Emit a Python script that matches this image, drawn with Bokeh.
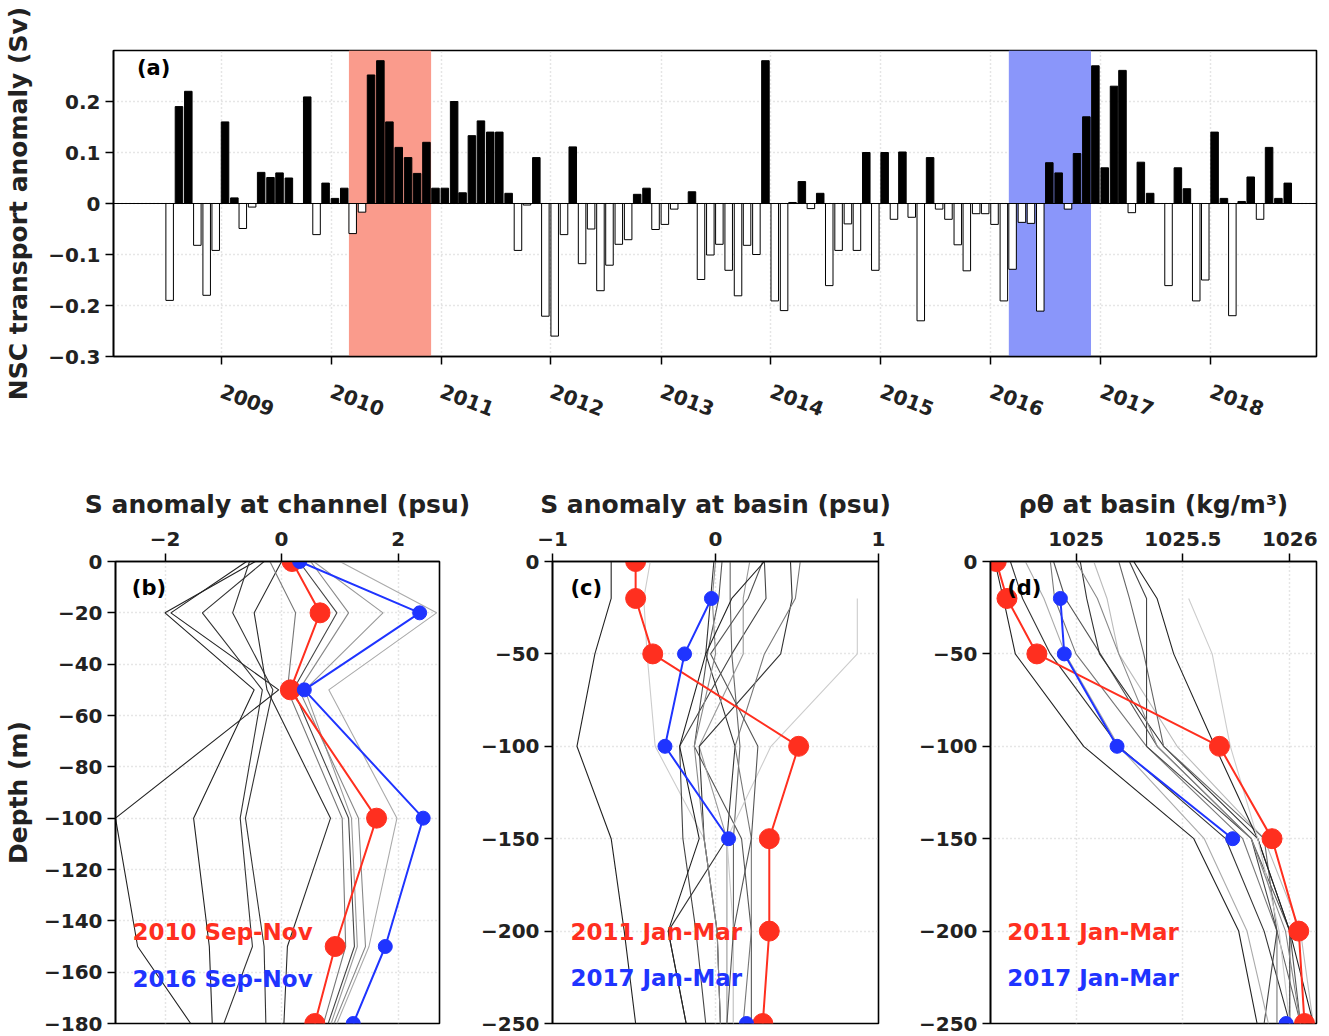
import math
import numpy as np
import pandas as pd
from bokeh.plotting import figure
from bokeh.layouts import column, row
from bokeh.models import (Range1d, FixedTicker, DatetimeTickFormatter, BoxAnnotation,
                          Span, Label, ColumnDataSource)
from bokeh.embed import file_html
from bokeh.resources import INLINE

# ---------------- data: panel (a) monthly NSC transport anomaly (Sv) ----------------
first_month = "2008-07-01"
transport = [
    -0.19, 0.19, 0.22, -0.082, -0.18, -0.092,                                   # 2008 Jul-Dec
    0.16, 0.011, -0.049, -0.007, 0.061, 0.051, 0.060, 0.050, None, 0.209, -0.061, 0.04,   # 2009
    0.01, 0.03, -0.059, -0.017, 0.252, 0.28, 0.16, 0.11, 0.09, 0.059, 0.12, 0.03,          # 2010
    0.03, 0.20, 0.021, 0.133, 0.162, 0.14, 0.14, 0.02, -0.092, -0.003, 0.09, -0.221,       # 2011
    -0.26, -0.061, 0.111, -0.118, -0.05, -0.171, -0.121, -0.08, -0.071, 0.018, 0.03, -0.051,  # 2012
    -0.041, -0.011, None, 0.023, -0.149, -0.101, -0.08, -0.131, -0.181, -0.082, -0.10, 0.28,  # 2013
    -0.191, -0.21, 0.002, 0.043, -0.01, 0.02, -0.161, -0.092, -0.04, -0.092, 0.10, -0.131,   # 2014
    0.10, -0.031, 0.101, -0.027, -0.23, 0.09, -0.011, -0.031, -0.081, -0.132, -0.02, -0.02,  # 2015
    -0.041, -0.191, -0.129, -0.037, -0.039, -0.211, 0.08, 0.06, -0.011, 0.098, 0.17, 0.27,   # 2016
    0.07, 0.23, 0.261, -0.018, 0.081, 0.02, None, -0.161, 0.07, 0.029, -0.191, -0.15,       # 2017
    0.14, 0.01, -0.22, 0.004, 0.052, -0.031, 0.11, 0.01, 0.04,                             # 2018 Jan-Sep
]
year_ticks = [2009, 2010, 2011, 2012, 2013, 2014, 2015, 2016, 2017, 2018]
a_yticks = [-0.3, -0.2, -0.1, 0, 0.1, 0.2]
red_period = ("2010-03-01", "2010-11-29")
blue_period = ("2016-03-01", "2016-11-29")

# ---------------- data: panel (b) S anomaly at channel ----------------
b_depth = [0, -20, -50, -100, -150, -180]
b_xticks = [-2, 0, 2]
b_yticks = [0, -20, -40, -60, -80, -100, -120, -140, -160, -180]
b_red = [0.18, 0.66, 0.15, 1.63, 0.92, 0.57]
b_blue = [0.31, 2.37, 0.39, 2.43, 1.78, 1.23]
b_profiles = [
    [-0.45, -2.0, -0.47, -1.51, -1.24, -1.19],
    [-0.6, -1.9, -0.05, -2.85, -2.47, -1.56],
    [-0.3, -1.36, -0.33, -0.71, -0.50, -0.99],
    [-0.55, -0.84, -0.15, -0.62, -0.30, -0.27],
    [0.0, -0.47, -0.25, 0.84, 0.10, 0.04],
    [-0.2, 0.24, 0.10, 1.04, 1.10, 0.72],
    [0.3, 0.95, 0.20, 1.15, 1.25, 0.80],
    [0.55, 1.74, 0.40, 1.20, 1.30, 0.85],
    [0.5, 1.15, 0.30, 1.32, 1.44, 0.90],
    [1.0, 2.66, 0.81, 1.98, 1.50, 0.95],
]
b_colors = ["#222222", "#222222", "#333333", "#333333", "#2a2a2a", "#777777",
            "#444444", "#999999", "#888888", "#aaaaaa"]

# ---------------- data: panel (c) S anomaly at basin ----------------
cd_depth = [0, -20, -50, -100, -150, -200, -250]
cd_yticks = [0, -50, -100, -150, -200, -250]
c_xticks = [-1, 0, 1]
c_red = [-0.49, -0.49, -0.385, 0.51, 0.33, 0.33, 0.29]
c_blue = [None, -0.025, -0.19, -0.31, 0.08, None, 0.19]
c_profiles = [
    [-0.64, -0.64, -0.74, -0.85, -0.64, -0.56, -0.49],
    [-0.40, -0.44, -0.42, -0.37, -0.07, 0.01, 0.03],
    [-0.01, -0.03, -0.06, 0.12, 0.07, -0.29, -0.18],
    [0.30, 0.31, 0.10, -0.22, -0.20, -0.12, -0.06],
    [0.04, 0.02, -0.05, -0.13, 0.16, 0.22, 0.22],
    [0.09, 0.09, 0.10, 0.15, 0.11, 0.11, 0.11],
    [0.21, 0.17, 0.17, -0.10, 0.07, 0.07, 0.07],
    [0.46, 0.47, 0.40, -0.10, -0.07, 0.01, 0.03],
    [0.52, 0.49, 0.30, 0.12, 0.22, 0.22, 0.17],
    [None, 0.87, 0.87, 0.34, 0.07, 0.11, 0.11],
    [0.29, 0.20, -0.03, 0.26, 0.22, 0.11, 0.07],
    [0.0, -0.02, 0.0, -0.13, -0.07, 0.01, 0.03],
    [0.30, 0.10, -0.06, -0.22, -0.10, -0.29, -0.18],
]
c_colors = ["#222222", "#cccccc", "#333333", "#444444", "#555555", "#666666", "#999999",
            "#333333", "#777777", "#cccccc", "#555555", "#888888", "#222222"]

# ---------------- data: panel (d) potential density at basin ----------------
d_xticks = [1025, 1025.5, 1026]
d_red = [1024.627, 1024.677, 1024.817, 1025.671, 1025.917, 1026.042, 1026.069]
d_blue = [None, 1024.927, 1024.945, 1025.192, 1025.733, None, 1025.983]
d_profiles = [
    [1024.62, 1024.66, 1024.716, 1025.036, 1025.551, 1025.761, 1025.847],
    [1024.693, 1024.75, 1024.88, 1025.20, 1025.70, 1025.88, 1026.00],
    [1024.88, 1024.90, 1025.00, 1025.33, 1025.78, 1025.94, 1025.94],
    [1024.895, 1024.95, 1025.114, 1025.38, 1025.82, 1026.00, 1026.05],
    [1025.02, 1025.05, 1025.11, 1025.41, 1025.85, 1026.00, 1026.00],
    [1025.083, 1025.145, 1025.20, 1025.473, 1025.88, 1026.05, 1026.11],
    [1025.20, 1025.25, 1025.317, 1025.41, 1025.88, 1025.94, 1026.05],
    [1025.27, 1025.379, 1025.457, 1025.65, 1025.85, 1026.00, 1026.11],
    [None, 1025.527, 1025.637, 1025.722, 1025.85, 1025.95, 1026.00],
    [1025.25, 1025.33, 1025.33, 1025.33, 1025.82, 1025.94, 1025.88],
    [1024.763, 1024.85, 1024.95, 1025.20, 1025.60, 1025.80, 1025.90],
    [1025.00, 1025.10, 1025.20, 1025.38, 1025.82, 1025.98, 1026.05],
]
d_colors = ["#222222", "#333333", "#777777", "#555555", "#333333", "#bbbbbb", "#666666",
            "#222222", "#cccccc", "#444444", "#aaaaaa", "#888888"]

RED = "#ff2f1f"
BLUE = "#1f34ff"
FONT = "DejaVu Sans"
DAY = 86400000.0


def ms(s):
    return pd.Timestamp(s).value / 1e6


def fmt(v):
    return ("%g" % v).replace("-", "\u2212")


def labels_for(ticks):
    return {t: fmt(t) for t in ticks}


def style(p):
    p.outline_line_color = "black"
    p.outline_line_width = 1.6
    p.outline_line_alpha = 1.0
    p.background_fill_color = "white"
    p.border_fill_color = "white"
    for ax in p.axis:
        ax.axis_line_width = 1.6
        ax.major_tick_line_width = 1.5
        ax.major_tick_out = 8
        ax.major_tick_in = 0
        ax.minor_tick_out = 0
        ax.minor_tick_in = 0
        ax.major_label_text_font = FONT
        ax.major_label_text_font_style = "bold"
        ax.major_label_text_font_size = "20px"
        ax.major_label_text_color = "#222222"
        ax.axis_label_text_font = FONT
        ax.axis_label_text_font_style = "bold"
        ax.axis_label_text_font_size = "25px"
        ax.axis_label_text_color = "#222222"
    for g in (p.xgrid, p.ygrid):
        g.grid_line_color = "#cccccc"
        g.grid_line_dash = "1 3"
        g.grid_line_width = 1.5


# ---------------- panel (a) ----------------
months = pd.date_range(first_month, periods=len(transport), freq="MS")
xs, tops, fills = [], [], []
for m, v in zip(months, transport):
    if v is None:
        continue
    xs.append(m.value / 1e6 + 12.5 * DAY)
    tops.append(v)
    fills.append("black" if v > 0 else "white")
src = ColumnDataSource(dict(x=xs, top=tops, fill=fills))

pa = figure(width=1329, height=440, x_axis_type="datetime",
            x_range=Range1d(ms("2008-01-09"), ms("2018-12-18")),
            y_range=Range1d(-0.3, 0.3),
            min_border_left=113, min_border_right=13, min_border_top=50, min_border_bottom=84,
            output_backend="svg", toolbar_location=None)
style(pa)
pa.add_layout(BoxAnnotation(left=ms(red_period[0]), right=ms(red_period[1]),
                            fill_color="#fa9b8c", fill_alpha=1.0, line_alpha=0, level="underlay"))
pa.add_layout(BoxAnnotation(left=ms(blue_period[0]), right=ms(blue_period[1]),
                            fill_color="#8a96fa", fill_alpha=1.0, line_alpha=0, level="underlay"))
pa.vbar(x="x", top="top", bottom=0, width=25 * DAY, source=src,
        fill_color="fill", line_color="black", line_width=1)
pa.add_layout(Span(location=0, dimension="width", line_color="black", line_width=1.2))
pa.xaxis.ticker = FixedTicker(ticks=[ms(f"{y}-01-01") for y in year_ticks])
pa.xaxis.formatter = DatetimeTickFormatter(years="%Y", months="%Y", days="%Y", hours="%Y",
                                           minutes="%Y", seconds="%Y", milliseconds="%Y",
                                           microseconds="%Y", minsec="%Y", hourmin="%Y")
pa.xaxis.major_label_orientation = -0.36
pa.xaxis.major_label_standoff = 26
pa.xaxis.major_label_text_font_size = "20px"
pa.yaxis.ticker = FixedTicker(ticks=a_yticks)
pa.yaxis.major_label_overrides = labels_for(a_yticks)
pa.yaxis.axis_label = "NSC transport anomaly (Sv)"
pa.yaxis.axis_label_standoff = 12
pa.add_layout(Label(x=ms("2008-03-27"), y=0.265, text="(a)", text_font=FONT,
                    text_font_style="bold", text_font_size="21px", text_baseline="middle",
                    text_color="black"))


# ---------------- bottom panels ----------------
def profile_fig(width, left, right, xr, yr, xticks, yticks, xlabel):
    p = figure(width=width, height=596, x_range=Range1d(*xr), y_range=Range1d(*yr),
               x_axis_location="above",
               min_border_left=left, min_border_right=right, min_border_top=121,
               min_border_bottom=13, output_backend="svg", toolbar_location=None)
    style(p)
    p.xaxis.ticker = FixedTicker(ticks=xticks)
    p.yaxis.ticker = FixedTicker(ticks=yticks)
    p.xaxis.major_label_overrides = labels_for(xticks)
    p.yaxis.major_label_overrides = labels_for(yticks)
    p.xaxis.axis_label = xlabel
    p.xaxis.axis_label_standoff = 10
    p.xaxis.major_label_standoff = 8
    return p


def nan(v):
    return [np.nan if a is None else a for a in v]


pb = profile_fig(470, 113, 31, (-2.85, 2.71), (-180, 0), b_xticks, b_yticks,
                 "S anomaly at channel (psu)")
pb.yaxis.axis_label = "Depth (m)"
pb.yaxis.axis_label_standoff = 8
for prof, col in zip(b_profiles, b_colors):
    pb.line(nan(prof), b_depth, line_color=col, line_width=1.1)
pb.line(b_red, b_depth, line_color=RED, line_width=2)
pb.scatter(b_red, b_depth, size=20, color=RED)
pb.line(b_blue, b_depth, line_color=BLUE, line_width=2)
pb.scatter(b_blue, b_depth, size=14, color=BLUE)

pc = profile_fig(430, 82, 22, (-1, 1), (-250, 0), c_xticks, cd_yticks,
                 "S anomaly at basin (psu)")
for prof, col in zip(c_profiles, c_colors):
    pc.line(nan(prof), cd_depth, line_color=col, line_width=1.1)
pc.line(c_red, cd_depth, line_color=RED, line_width=2)
pc.scatter(c_red, cd_depth, size=20, color=RED)
pc.line(nan(c_blue), cd_depth, line_color=BLUE, line_width=2)
pc.scatter(nan(c_blue), cd_depth, size=14, color=BLUE)

pd_ = profile_fig(429, 90, 13, (1024.6, 1026.125), (-250, 0), d_xticks, cd_yticks,
                  "ρθ at basin (kg/m³)")
for prof, col in zip(d_profiles, d_colors):
    pd_.line(nan(prof), cd_depth, line_color=col, line_width=1.1)
pd_.line(d_red, cd_depth, line_color=RED, line_width=2)
pd_.scatter(d_red, cd_depth, size=20, color=RED)
pd_.line(nan(d_blue), cd_depth, line_color=BLUE, line_width=2)
pd_.scatter(nan(d_blue), cd_depth, size=14, color=BLUE)


def add_text(p, x, y, text, color, size="23px"):
    p.add_layout(Label(x=x, y=y, text=text, text_font=FONT, text_font_style="bold",
                       text_font_size=size, text_color=color, text_baseline="middle"))


add_text(pb, -2.57, -10.5, "(b)", "black", "21px")
add_text(pb, -2.56, -144.5, "2010 Sep-Nov", RED)
add_text(pb, -2.56, -162.5, "2016 Sep-Nov", BLUE)
add_text(pc, -0.89, -14.6, "(c)", "black", "21px")
add_text(pc, -0.89, -200.7, "2011 Jan-Mar", RED)
add_text(pc, -0.89, -225.6, "2017 Jan-Mar", BLUE)
add_text(pd_, 1024.678, -14.6, "(d)", "black", "21px")
add_text(pd_, 1024.678, -200.7, "2011 Jan-Mar", RED)
add_text(pd_, 1024.678, -225.6, "2017 Jan-Mar", BLUE)

layout = column(pa, row(pb, pc, pd_, spacing=0), spacing=0)
open("out.html", "w").write(file_html(layout, INLINE))
